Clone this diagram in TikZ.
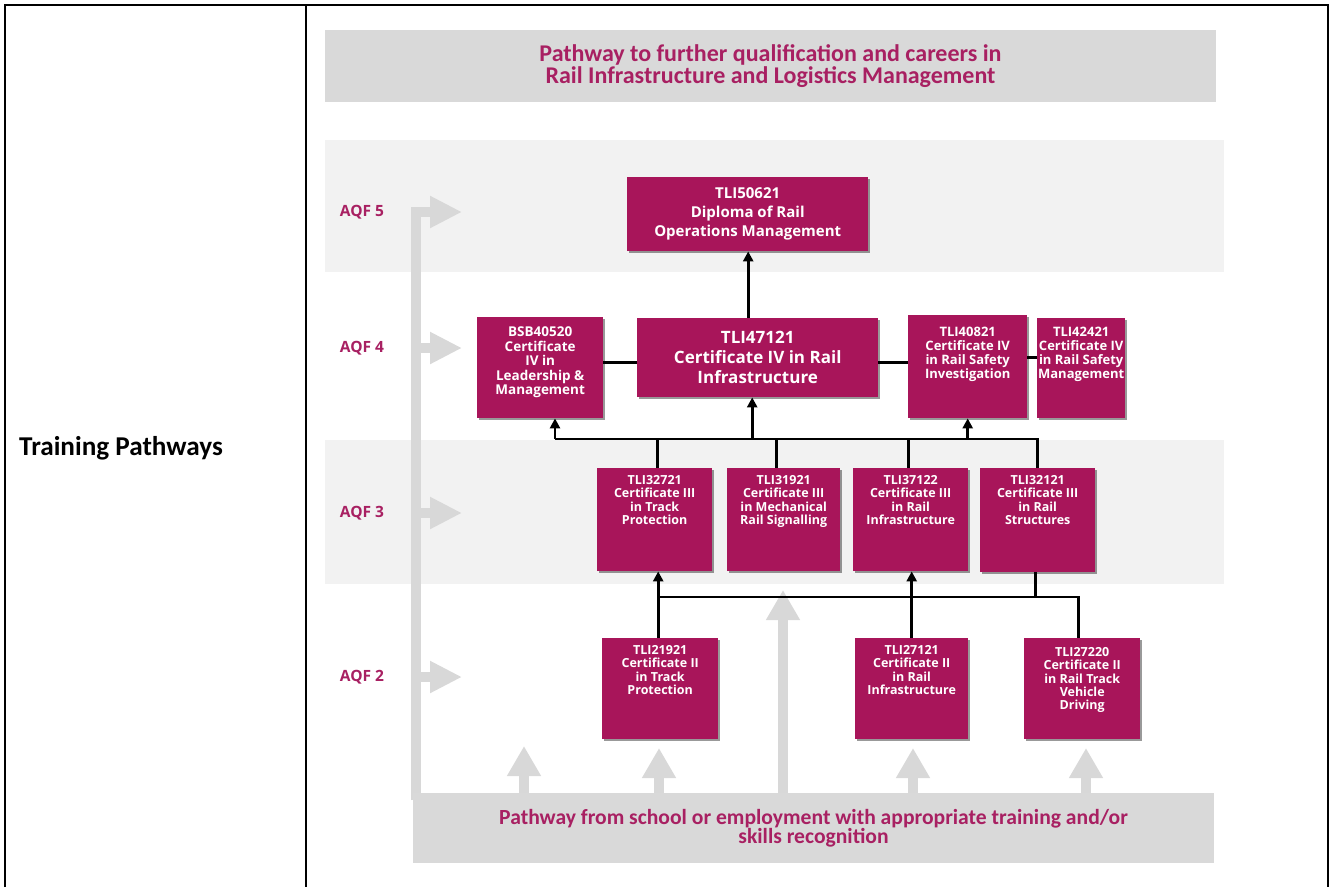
\documentclass[tikz,border=0pt]{standalone}
\usepackage{fontspec}
\setmainfont{Open Sans}
\newfontfamily\calfont{Carlito}
\usetikzlibrary{arrows.meta,shadows}
\definecolor{mag}{RGB}{168,21,90}
\definecolor{magtxt}{RGB}{168,32,98}
\definecolor{bannergray}{RGB}{217,217,217}
\definecolor{bandgray}{RGB}{242,242,242}
\definecolor{pathgray}{RGB}{216,216,216}
\tikzset{
  mbox/.style={fill=mag, inner sep=0pt, anchor=north west, text=white, align=center,
    drop shadow={shadow xshift=1.5pt,shadow yshift=-1.5pt,fill=black,opacity=0.4}},
  btxt/.style={text=white, align=center, inner sep=0pt, anchor=north},
  banner/.style={fill=bannergray, inner sep=0pt, text=magtxt, align=center},
  aqf/.style={text=magtxt, font=\bfseries\fontsize{15.5}{18}\selectfont},
  conn/.style={line width=2.6pt, black},
  arr/.style={-{Triangle[width=10pt,length=10pt]}},
  fatarrow/.style={pathgray, line width=10pt, line join=miter, -{Triangle[width=32pt,length=30pt]}},
  fatright/.style={pathgray, line width=10pt, line join=miter, -{Triangle[width=30pt,length=32pt]}},
  small/.style={font=\bfseries\fontsize{12.5}{13.2}\selectfont},
}
\begin{document}
\begin{tikzpicture}[x=1pt,y=-1pt]
\useasboundingbox (0,0) rectangle (1333,887);
\fill[white] (0,0) rectangle (1333,887);

% table frame
\draw[line width=2pt] (5,887) -- (5,5) -- (1328,5) -- (1328,887);
\draw[line width=2pt] (306,5) -- (306,887);
\node[anchor=west, inner sep=0pt, font=\calfont\bfseries\fontsize{27.2}{30}\selectfont] (tp) at (19,448) {Training Pathways};

% bands
\fill[bandgray] (325,140) rectangle (1224,272);
\fill[bandgray] (325,440) rectangle (1224,584);

% top banner
\node[banner, minimum width=891, minimum height=72, font=\calfont\bfseries\fontsize{24}{20}\selectfont] (top) at (770.5,66)
  {Pathway to further qualification and careers in\\Rail Infrastructure and Logistics Management};

% AQF labels
\node[aqf] (l5) at (362,212) {AQF 5};
\node[aqf] (l4) at (362,348) {AQF 4};
\node[aqf] (l3) at (362,513) {AQF 3};
\node[aqf] (l2) at (362,677) {AQF 2};

% left pathway
\draw[fatright] (416,800) |- (462,212);
\draw[fatright] (416,348) -- (462,348);
\draw[fatright] (416,513) -- (462,513);
\draw[fatright] (416,677) -- (462,677);

% upward arrows from bottom banner
\draw[fatarrow] (524,795) -- (524,746);
\draw[fatarrow] (659,795) -- (659,748);
\draw[fatarrow] (783,795) -- (783,590);
\draw[fatarrow] (913,795) -- (913,748);
\draw[fatarrow] (1086,795) -- (1086,748);

% bottom banner
\node[banner, minimum width=801, minimum height=70, font=\calfont\bfseries\fontsize{21.6}{19}\selectfont] (bot) at (813.5,828)
  {Pathway from school or employment with appropriate training and/or\\skills recognition};

% AQF 5
\node[mbox, minimum width=241, minimum height=74, font=\bfseries\fontsize{15}{19}\selectfont] (d5) at (627,177)
  {TLI50621\\Diploma of Rail\\Operations Management};

% AQF 4
\node[mbox, minimum width=126, minimum height=101] (b4) at (477,317) {};
\node[btxt, font=\bfseries\fontsize{13.5}{14.5}\selectfont] (b4t) at ([yshift=-10pt]b4.north)
  {BSB40520\\Certificate\\IV in\\Leadership \&\\Management};
\node[mbox, minimum width=241, minimum height=79, font=\bfseries\fontsize{17}{20}\selectfont] (c4) at (637,318)
  {TLI47121\\Certificate IV in Rail\\Infrastructure};
\node[mbox, minimum width=119, minimum height=103] (s4) at (908,315) {};
\node[btxt, font=\bfseries\fontsize{13}{14}\selectfont] (s4t) at ([yshift=-12pt]s4.north)
  {TLI40821\\Certificate IV\\in Rail Safety\\Investigation};
\node[mbox, minimum width=88, minimum height=100] (m4) at (1037,318) {};
\node[btxt, font=\bfseries\fontsize{13}{14}\selectfont] (m4t) at ([yshift=-9pt]m4.north)
  {TLI42421\\Certificate IV\\in Rail Safety\\Management};

% AQF 3
\node[mbox, minimum width=115, minimum height=103] (tp3) at (597,468) {};
\node[btxt, small] (tp3t) at ([yshift=-7.5pt]tp3.north) {TLI32721\\Certificate III\\in Track\\Protection};
\node[mbox, minimum width=113, minimum height=103] (ms3) at (727,468) {};
\node[btxt, small] (ms3t) at ([yshift=-7.5pt]ms3.north) {TLI31921\\Certificate III\\in Mechanical\\Rail Signalling};
\node[mbox, minimum width=115, minimum height=103] (ri3) at (853,468) {};
\node[btxt, small] (ri3t) at ([yshift=-7.5pt]ri3.north) {TLI37122\\Certificate III\\in Rail\\Infrastructure};
\node[mbox, minimum width=115, minimum height=104] (rs3) at (980,468) {};
\node[btxt, small] (rs3t) at ([yshift=-7.5pt]rs3.north) {TLI32121\\Certificate III\\in Rail\\Structures};

% AQF 2
\node[mbox, minimum width=116, minimum height=101] (tp2) at (602,638) {};
\node[btxt, small] (tp2t) at ([yshift=-7.5pt]tp2.north) {TLI21921\\Certificate II\\in Track\\Protection};
\node[mbox, minimum width=113, minimum height=101] (ri2) at (855,638) {};
\node[btxt, small] (ri2t) at ([yshift=-7.5pt]ri2.north) {TLI27121\\Certificate II\\in Rail\\Infrastructure};
\node[mbox, minimum width=116, minimum height=101] (vd2) at (1024,638) {};
\node[btxt, small] (vd2t) at ([yshift=-9.5pt]vd2.north) {TLI27220\\Certificate II\\in Rail Track\\Vehicle\\Driving};

% connectors AQF4 -> AQF5
\draw[conn, arr] ([xshift=-9.5pt]c4.north) -- ([xshift=-9.5pt]c4.north |- d5.south);
% AQF4 horizontal links
\draw[conn] ([yshift=-4.5pt]c4.west) -- ([yshift=-4.5pt]c4.west -| b4.east);
\draw[conn] ([yshift=-4.5pt]c4.east) -- ([yshift=-4.5pt]c4.east -| s4.west);
\draw[conn] ([yshift=11pt]m4.west) -- ([yshift=11pt]m4.west -| s4.east);

% AQF3 -> AQF4 bus
\coordinate (busL) at (555,439);
\draw[conn] (rs3.north) |- (busL);
\draw[conn] ([xshift=2.5pt]tp3.north) -- ([xshift=2.5pt]tp3.north |- busL);
\draw[conn] ([xshift=-7.5pt]ms3.north) -- ([xshift=-7.5pt]ms3.north |- busL);
\draw[conn] ([xshift=-2.5pt]ri3.north) -- ([xshift=-2.5pt]ri3.north |- busL);
\draw[conn, arr] (busL) -- (busL |- b4.south);
\draw[conn, arr] ([xshift=-5.5pt]c4.south |- busL) -- ([xshift=-5.5pt]c4.south);
\draw[conn, arr] (s4.south |- busL) -- (s4.south);

% AQF2 -> AQF3
\coordinate (bus2L) at (658,597);
\draw[conn, arr] ([xshift=-2pt]tp2.north) -- ([xshift=-2pt]tp2.north |- tp3.south);
\draw[conn, arr] (ri2.north) -- (ri2.north |- ri3.south);
\draw[conn] (bus2L) -| ([xshift=-4pt]vd2.north);
\draw[conn] ([xshift=-2.5pt]rs3.south) -- ([xshift=-2.5pt]rs3.south |- bus2L);
\end{tikzpicture}
\end{document}
